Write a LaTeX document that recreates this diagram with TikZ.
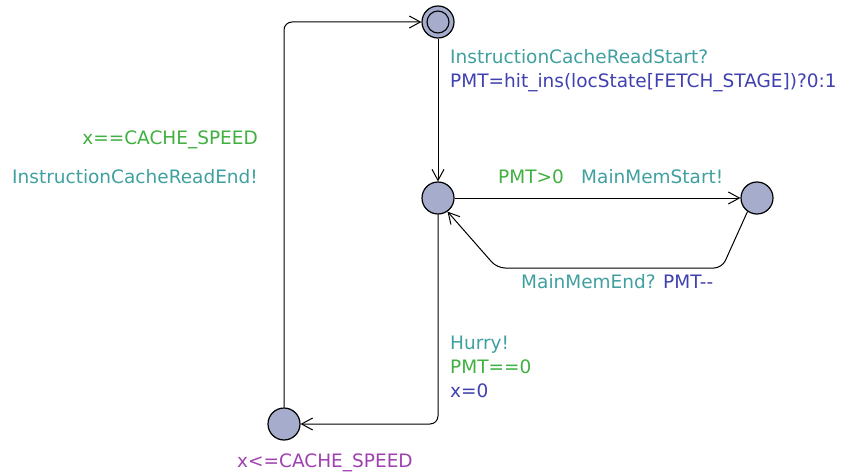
\documentclass[tikz,border=0pt]{standalone}
\usepackage{fontspec}
\setmainfont{DejaVu Sans}
\usetikzlibrary{arrows.meta}
\definecolor{locfill}{RGB}{166,173,204}
\definecolor{synccol}{RGB}{64,160,160}
\definecolor{guardcol}{RGB}{64,176,64}
\definecolor{updcol}{RGB}{64,64,176}
\definecolor{invcol}{RGB}{160,64,176}
\tikzset{
  loc/.style={circle,draw=black,fill=locfill,line width=1.2pt,minimum size=32pt,inner sep=0pt},
  edge/.style={line width=1pt,-{Straight Barb[length=11pt,width=12pt]},rounded corners=8pt},
  lbl/.style={anchor=base west,inner sep=0pt,font=\fontsize{18.5}{20}\selectfont},
  rlbl/.style={lbl,anchor=base east},
}
\begin{document}
\begin{tikzpicture}[x=1pt,y=-1pt]
\useasboundingbox (0,0) rectangle (841,476);
% locations
\node[loc] (init) at (438,22) {};
\draw[line width=1.1pt] (init.center) circle (11pt);
\node[loc] (mid) at (438,198) {};
\node[loc] (mem) at (757,198) {};
\node[loc] (wait) at (284,424) {};
\coordinate (c1) at (438,424);
\coordinate (c2) at (284,22);
\coordinate (c3) at (722,268);
\coordinate (c4) at (497,268);
% edges
\draw[edge] (init) -- (mid);
\draw[edge] (mid) -- (mem);
\draw[edge] (mem.-125) -- (c3) -- (c4) -- (mid.-55);
\draw[edge] (mid) -- (c1) -- (wait);
\draw[edge] (wait) -- (c2) -- (init);
% labels
\node[lbl,text=synccol] (l1) at (450,64) {InstructionCacheReadStart?};
\node[lbl,text=updcol] (l2) at (450,88) {PMT=hit\_ins(locState[FETCH\_STAGE])?0:1};
\node[rlbl,text=guardcol] (l3) at (258,145) {x==CACHE\_SPEED};
\node[rlbl,text=synccol] (l4) at (258,183) {InstructionCacheReadEnd!};
\node[lbl,text=guardcol] (l5) at (498,183) {PMT>0};
\node[lbl,text=synccol] (l6) at (581,183) {MainMemStart!};
\node[lbl,text=synccol] (l7) at (521,288) {MainMemEnd?};
\node[lbl,text=updcol] (l8) at (663,288) {PMT-{}-};
\node[lbl,text=synccol] (l9) at (450,349) {Hurry!};
\node[lbl,text=guardcol] (l10) at (450,373) {PMT==0};
\node[lbl,text=updcol] (l11) at (450,397) {x=0};
\node[lbl,text=invcol] (l12) at (237,467) {x<=CACHE\_SPEED};
\end{tikzpicture}
\end{document}
